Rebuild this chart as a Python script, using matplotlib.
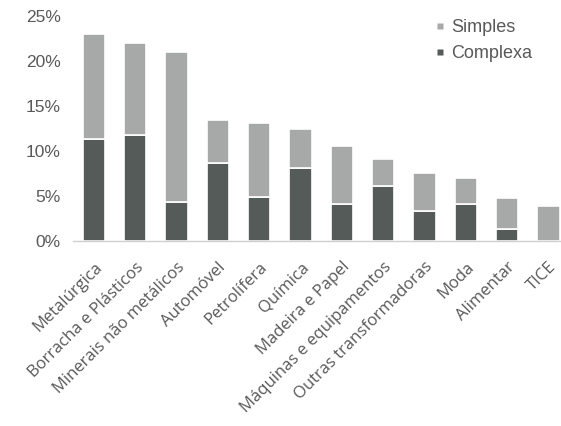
import matplotlib
matplotlib.use("Agg")
import matplotlib.pyplot as plt
from matplotlib.lines import Line2D
from matplotlib.ticker import FuncFormatter

categories = ["Metalúrgica", "Borracha e Plásticos", "Minerais não metálicos",
              "Automóvel", "Petrolífera", "Química", "Madeira e Papel",
              "Máquinas e equipamentos", "Outras transformadoras", "Moda",
              "Alimentar", "TICE"]
complexa = [11.3, 11.8, 4.3, 8.7, 4.9, 8.1, 4.1, 6.1, 3.3, 4.1, 1.3, 0.0]
total = [23.0, 22.0, 21.0, 13.4, 13.1, 12.5, 10.6, 9.1, 7.6, 7.0, 4.8, 3.9]
simples = [t - c for t, c in zip(total, complexa)]
y_ticks = [0, 5, 10, 15, 20, 25]

c_simples = "#a6a9a7"
c_complexa = "#555b58"
text_col = "#595959"

fig = plt.figure(figsize=(5.61, 4.26), dpi=100)
ax = fig.add_axes([0.1307, 0.4343, 0.8837, 0.5281])

x = range(len(categories))
ax.bar(x, complexa, width=0.54, color=c_complexa, edgecolor="white",
       linewidth=1.2, zorder=2)
ax.bar(x, simples, bottom=complexa, width=0.54, color=c_simples,
       edgecolor="white", linewidth=1.2, zorder=2)

ax.set_xlim(-0.5, len(categories) - 0.5)
ax.set_ylim(0, 25)
ax.set_yticks(y_ticks)
ax.yaxis.set_major_formatter(FuncFormatter(lambda v, p: f"{v:.0f}%"))

for s in ["top", "right", "left"]:
    ax.spines[s].set_visible(False)
ax.spines["bottom"].set_color("#d0d0d0")
ax.spines["bottom"].set_linewidth(1.0)

ax.tick_params(axis="y", length=0, pad=9, labelcolor=text_col, labelsize=12.5)
for lbl in ax.get_yticklabels():
    lbl.set_family("Liberation Sans")
ax.set_xticks(list(x))
ax.set_xticklabels(categories, rotation=45, ha="right", rotation_mode="anchor",
                   family="Open Sans", fontsize=12, color=text_col)
ax.tick_params(axis="x", length=0, pad=13)

# Small square legend markers
handles = [
    Line2D([], [], linestyle="none", marker="s", markersize=4.5,
           markerfacecolor=c_simples, markeredgecolor="none"),
    Line2D([], [], linestyle="none", marker="s", markersize=4.5,
           markerfacecolor=c_complexa, markeredgecolor="none"),
]
fig.legend(handles, ["Simples", "Complexa"], loc="upper left",
           bbox_to_anchor=(436 / 561, 1 - 19 / 426), frameon=False,
           prop={"family": "Liberation Sans", "size": 13},
           borderpad=0, borderaxespad=0,
           handlelength=0.4, handletextpad=0.45,
           labelspacing=0.5, labelcolor=text_col)

fig.savefig("out.png", dpi=100)
